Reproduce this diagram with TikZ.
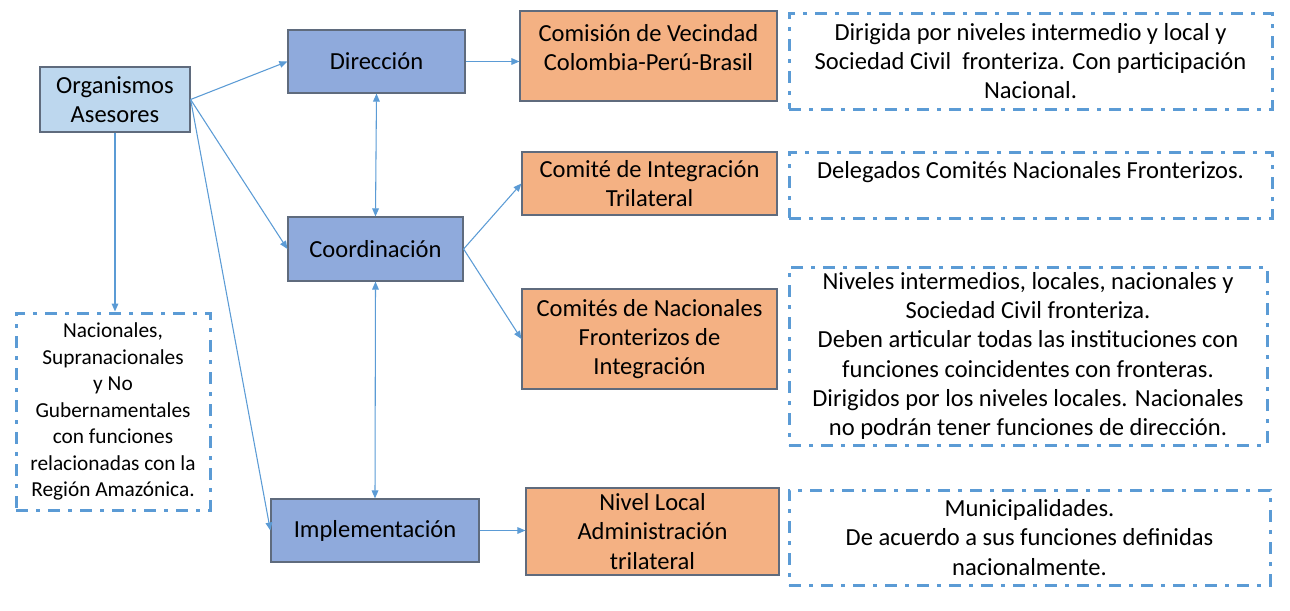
\documentclass[tikz,border=0pt]{standalone}
\usepackage{fontspec}
\setmainfont{Carlito}
\usetikzlibrary{arrows.meta}
\definecolor{lightblue}{HTML}{BDD7EE}
\definecolor{midblue}{HTML}{8FAADC}
\definecolor{salmon}{HTML}{F4B183}
\definecolor{lineblue}{HTML}{5B9BD5}
\definecolor{edgegray}{HTML}{5F6B7D}

\begin{document}
\begin{tikzpicture}[x=0.75pt,y=-0.75pt,
	box/.style={draw=edgegray, line width=0.9pt, align=center, inner sep=0pt, font=\fontsize{18.4}{22}\selectfont},
	dbox/.style={draw=lineblue, line width=2.25pt, dash pattern=on 9pt off 6pt on 3pt off 6pt, align=center, inner sep=0pt, font=\fontsize{18.4}{22}\selectfont},
	link/.style={draw=lineblue, line width=0.8pt, -{Triangle[length=6pt,width=5pt]}},
	both/.style={link, {Triangle[length=6pt,width=5pt]}-{Triangle[length=6pt,width=5pt]}}]
	\useasboundingbox (0,0) rectangle (1290,611);
	% left column
	\node[box, fill=lightblue, minimum width=112.5pt, minimum height=48.75pt] (org) at (115,99.5) {Organismos\\Asesores};
	\node[dbox, font=\fontsize{16}{19.9}\selectfont, minimum width=145.5pt, minimum height=147.75pt] (asesores) at (113,411.5) {Nacionales,\\Supranacionales\\y No\\Gubernamentales\\con funciones\\relacionadas con la\\Región Amazónica.};
	% levels
	\node[box, fill=midblue, minimum width=132.75pt, minimum height=47.25pt] (dir) at (376.5,61.5) {Dirección};
	\node[box, fill=midblue, minimum width=131.25pt, minimum height=48pt] (coord) at (375.5,249) {Coordinación};
	\node[box, fill=midblue, minimum width=156pt, minimum height=47.25pt] (impl) at (375,530.5) {Implementación};
	% bodies
	\node[box, fill=salmon, minimum width=192.75pt, minimum height=67.5pt, text depth=13pt] (comision) at (648.5,56) {Comisión de Vecindad\\Colombia-Perú-Brasil};
	\node[box, fill=salmon, minimum width=191.25pt, minimum height=47.25pt] (integ) at (649.5,183.5) {Comité de Integración\\Trilateral};
	\node[box, fill=salmon, minimum width=191.25pt, minimum height=75pt] (nac) at (649.5,339) {Comités de Nacionales\\Fronterizos de\\Integración};
	\node[box, fill=salmon, minimum width=189.75pt, minimum height=65.25pt] (local) at (652.5,531.5) {Nivel Local\\Administración\\trilateral};
	% descriptions
	\node[dbox, minimum width=362.25pt, minimum height=72pt] (dcom) at (1030.5,61) {Dirigida por niveles intermedio y local y\\Sociedad Civil\ \ fronteriza. Con participación\\Nacional.};
	\node[dbox, minimum width=362.25pt, minimum height=49.5pt] (dinteg) at (1030.5,185) {Delegados Comités Nacionales Fronterizos.\\\mbox{}};
	\node[dbox, minimum width=358.5pt, minimum height=133.5pt] (dnac) at (1028,356) {Niveles intermedios, locales, nacionales y\\Sociedad Civil fronteriza.\\Deben articular todas las instituciones con\\funciones coincidentes con fronteras.\\Dirigidos por los niveles locales. Nacionales\\no podrán tener funciones de dirección.};
	\node[dbox, minimum width=360.75pt, minimum height=71.25pt] (dlocal) at (1029.5,537.5) {Municipalidades.\\De acuerdo a sus funciones definidas\\nacionalmente.};
	% connectors
	\draw[link] (org.east) -- (dir.west);
	\draw[link] (org.east) -- (coord.west);
	\draw[link] (org.east) -- (impl.west);
	\draw[link] (org.south) -- (org.south |- asesores.north);
	\draw[both] (dir.south) -- (coord.north);
	\draw[both] (coord.south) -- (impl.north);
	\draw[link] (dir.east) -- (dir.east -| comision.west);
	\draw[link] (coord.east) -- (integ.west);
	\draw[link] (coord.east) -- (nac.west);
	\draw[link] (impl.east) -- (impl.east -| local.west);
\end{tikzpicture}
\end{document}
